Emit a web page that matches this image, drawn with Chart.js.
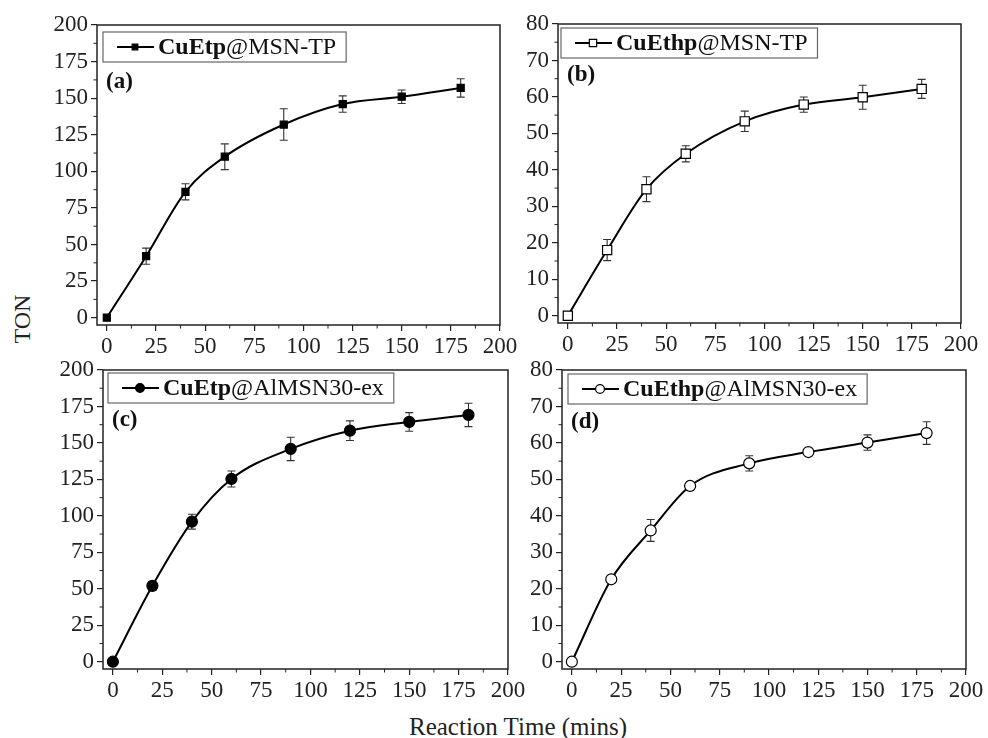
<!DOCTYPE html>
<html>
<head>
<meta charset="utf-8">
<script src="https://cdn.jsdelivr.net/npm/chart.js@4/dist/chart.umd.min.js"></script>
<style>
  body { margin: 0; background: #fff; width: 988px; height: 738px; position: relative; overflow: hidden; }
  canvas { position: absolute; }
  .axtitle { position: absolute; font-family: "Liberation Serif", serif; color: #222; white-space: nowrap; }
  #ytitle { left: 22px; top: 319px; font-size: 24px; transform: translate(-50%, -50%) rotate(-90deg); }
  #xtitle { left: 518px; top: 727px; font-size: 25px; transform: translate(-50%, -50%); }
</style>
</head>
<body>
<canvas id="panelA"></canvas>
<canvas id="panelB"></canvas>
<canvas id="panelC"></canvas>
<canvas id="panelD"></canvas>
<div class="axtitle" id="ytitle">TON</div>
<div class="axtitle" id="xtitle">Reaction Time (mins)</div>
<script>
// reaction time (mins)
const xValues = [0, 20, 40, 60, 90, 120, 150, 180]

// TON values and error bars
const tonA = [0, 42, 86, 110, 132, 146, 151, 157]
const errA = [0, 5.5, 5.5, 8.8, 10.8, 5.6, 4.6, 6.3]
const tonB = [0, 18, 34.7, 44.4, 53.3, 57.9, 59.9, 62.2]
const errB = [0, 2.9, 3.4, 2.2, 2.8, 2.1, 3.3, 2.6]
const tonC = [0, 52, 96, 125.3, 145.9, 158.4, 164.4, 169.2]
const errC = [0, 3, 5.1, 5.5, 8, 6.7, 6.4, 8]
const tonD = [0, 22.6, 36, 48.2, 54.4, 57.5, 60.1, 62.7]
const errD = [0, 0.8, 3, 1.2, 2.1, 0.5, 2.1, 3.1]

// tick labels
const xTicks = [0, 25, 50, 75, 100, 125, 150, 175, 200]
const yTicks200 = [0, 25, 50, 75, 100, 125, 150, 175, 200]
const yTicks80 = [0, 10, 20, 30, 40, 50, 60, 70, 80]

// legend texts
const legendBold = ['CuEtp', 'CuEthp', 'CuEtp', 'CuEthp']
const legendRest = ['@MSN-TP', '@MSN-TP', '@AlMSN30-ex', '@AlMSN30-ex']
const panelLabels = ['(a)', '(b)', '(c)', '(d)']

const SERIF = '"Liberation Serif", "Times New Roman", serif'
const Y_W = 60, X_H = 40, PAD_T = 10, PAD_R = 24

const mids = (arr) => arr.slice(1).map((v, i) => (v + arr[i]) / 2)

const decoPlugin = {
  id: 'deco',
  beforeDatasetsDraw(chart) {
    const ctx = chart.ctx
    const xs = chart.scales.x, ys = chart.scales.y
    const ds = chart.data.datasets[0]
    ctx.save()
    ctx.strokeStyle = '#333'
    ctx.lineWidth = 1.1
    ds.data.forEach((p, i) => {
      const e = ds.errors[i]
      if (!e) return
      const px = xs.getPixelForValue(p.x)
      const y1 = ys.getPixelForValue(p.y - e), y2 = ys.getPixelForValue(p.y + e)
      ctx.beginPath()
      ctx.moveTo(px, y1); ctx.lineTo(px, y2)
      ctx.moveTo(px - 4, y1); ctx.lineTo(px + 4, y1)
      ctx.moveTo(px - 4, y2); ctx.lineTo(px + 4, y2)
      ctx.stroke()
    })
    ctx.restore()
  },
  afterDraw(chart) {
    const ctx = chart.ctx
    const ca = chart.chartArea
    const xs = chart.scales.x, ys = chart.scales.y
    const o = chart.options.plugins.deco
    ctx.save()
    // frame
    ctx.strokeStyle = '#222'
    ctx.lineWidth = 1.5
    ctx.strokeRect(ca.left, ca.top, ca.right - ca.left, ca.bottom - ca.top)
    // minor ticks
    ctx.lineWidth = 1
    ctx.beginPath()
    mids(xTicks).forEach(v => {
      const px = xs.getPixelForValue(v)
      ctx.moveTo(px, ca.bottom); ctx.lineTo(px, ca.bottom + 3.5)
    })
    mids(o.yTicks).forEach(v => {
      const py = ys.getPixelForValue(v)
      ctx.moveTo(ca.left, py); ctx.lineTo(ca.left - 3.5, py)
    })
    ctx.stroke()

    // legend box
    const bx = ca.left + o.legendX, by = ca.top + o.legendY, bh = 30
    ctx.font = 'bold 24px ' + SERIF
    const wBold = ctx.measureText(o.bold).width
    ctx.font = '24px ' + SERIF
    const wRest = ctx.measureText(o.rest).width
    const textX = bx + 55
    const bw = 55 + wBold + wRest + 10
    ctx.fillStyle = '#fff'
    ctx.fillRect(bx, by, bw, bh)
    ctx.strokeStyle = '#666'
    ctx.lineWidth = 1.2
    ctx.strokeRect(bx, by, bw, bh)
    const ds = chart.data.datasets[0]
    const cy = by + bh / 2
    ctx.strokeStyle = '#000'
    ctx.lineWidth = 2
    ctx.beginPath()
    ctx.moveTo(bx + 14, cy); ctx.lineTo(bx + 51, cy)
    ctx.stroke()
    ctx.fillStyle = ds.pointBackgroundColor
    ctx.strokeStyle = ds.pointBorderColor
    ctx.lineWidth = ds.pointBorderWidth
    Chart.helpers.drawPoint(ctx, { pointStyle: ds.pointStyle, radius: ds.pointRadius * 0.8, borderWidth: ds.pointBorderWidth, rotation: 0 }, bx + 32, cy)
    ctx.fillStyle = '#111'
    ctx.textBaseline = 'middle'
    ctx.textAlign = 'left'
    ctx.font = 'bold 24px ' + SERIF
    ctx.fillText(o.bold, textX, cy + 1)
    ctx.font = '24px ' + SERIF
    ctx.fillText(o.rest, textX + wBold, cy + 1)
    // panel label
    ctx.font = 'bold 23px ' + SERIF
    ctx.fillText(o.label, ca.left + 9, ca.top + o.labelY)
    ctx.restore()
  }
}

function makePanel(id, area, ton, err, yTicks, yMin, idx, marker) {
  const cv = document.getElementById(id)
  const w = Y_W + (area.r - area.l) + PAD_R
  const h = PAD_T + (area.b - area.t) + X_H
  cv.width = w
  cv.height = h
  cv.style.left = (area.l - Y_W) + 'px'
  cv.style.top = (area.t - PAD_T) + 'px'
  const tickFont = { family: SERIF, size: 23 }
  return new Chart(cv, {
    type: 'scatter',
    data: {
      datasets: [{
        data: xValues.map((x, i) => ({ x: x, y: ton[i] })),
        errors: err,
        showLine: true,
        borderColor: '#000',
        borderWidth: 2,
        cubicInterpolationMode: 'monotone',
        pointStyle: marker.style,
        pointRadius: marker.radius,
        pointBackgroundColor: marker.fill,
        pointBorderColor: '#000',
        pointBorderWidth: 1.2
      }]
    },
    options: {
      responsive: false,
      animation: false,
      events: [],
      layout: { padding: { top: PAD_T, right: PAD_R, left: 0, bottom: 0 } },
      plugins: {
        legend: { display: false },
        tooltip: { enabled: false },
        deco: {
          yTicks: yTicks,
          bold: legendBold[idx],
          rest: legendRest[idx],
          label: panelLabels[idx],
          legendX: area.lx, legendY: area.ly, labelY: area.labelY
        }
      },
      scales: {
        x: {
          type: 'linear',
          min: -5,
          max: 200,
          afterBuildTicks: (s) => { s.ticks = xTicks.map(v => ({ value: v })) },
          afterFit: (s) => { s.height = X_H; s.paddingLeft = 0; s.paddingRight = 0 },
          border: { display: false },
          grid: { drawOnChartArea: false, drawTicks: true, tickLength: 6, color: '#222', lineWidth: 1.2 },
          ticks: { font: tickFont, color: '#222', padding: 2, maxRotation: 0, autoSkip: false }
        },
        y: {
          min: yMin,
          max: yTicks[yTicks.length - 1],
          afterBuildTicks: (s) => { s.ticks = yTicks.map(v => ({ value: v })) },
          afterFit: (s) => { s.width = Y_W; s.paddingTop = 0; s.paddingBottom = 0 },
          border: { display: false },
          grid: { drawOnChartArea: false, drawTicks: true, tickLength: 6, color: '#222', lineWidth: 1.2 },
          ticks: { font: tickFont, color: '#222', padding: 3, autoSkip: false }
        }
      }
    },
    plugins: [decoPlugin]
  })
}

makePanel('panelA', { l: 97, t: 25, r: 500, b: 325, lx: 6, ly: 7, labelY: 57 }, tonA, errA, yTicks200, -5, 0,
  { style: 'rect', radius: 5, fill: '#000' })
makePanel('panelB', { l: 558, t: 24, r: 961, b: 323, lx: 3, ly: 4, labelY: 51 }, tonB, errB, yTicks80, -2, 1,
  { style: 'rect', radius: 6.5, fill: '#fff' })
makePanel('panelC', { l: 103, t: 370, r: 508, b: 669, lx: 5, ly: 3, labelY: 50 }, tonC, errC, yTicks200, -5, 2,
  { style: 'circle', radius: 5.5, fill: '#000' })
makePanel('panelD', { l: 562, t: 370, r: 966, b: 669, lx: 6, ly: 4, labelY: 52 }, tonD, errD, yTicks80, -2, 3,
  { style: 'circle', radius: 5.5, fill: '#fff' })
</script>
</body>
</html>
